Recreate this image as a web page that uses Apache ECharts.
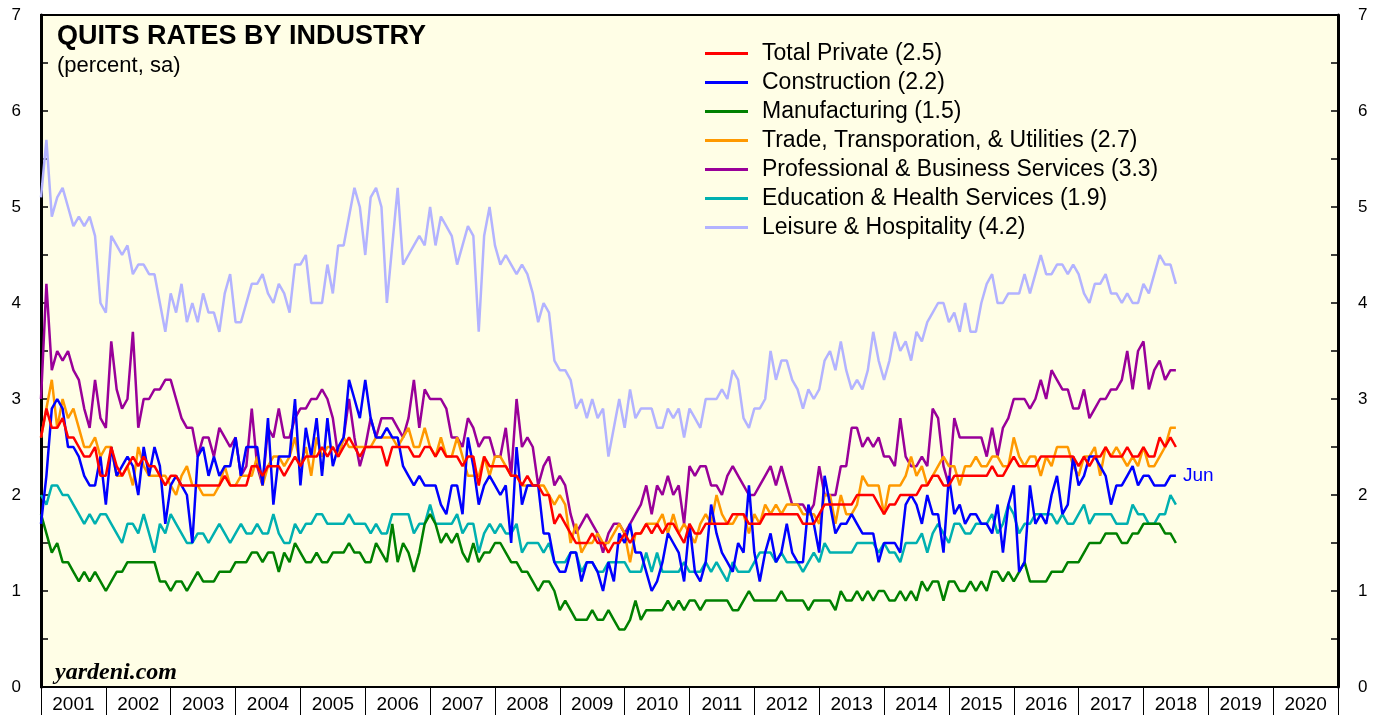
<!DOCTYPE html>
<html>
<head>
<meta charset="utf-8">
<title>Quits rates by industry</title>
<script src="https://cdn.jsdelivr.net/npm/echarts@6/dist/echarts.min.js"></script>
<style>
  html, body { margin: 0; padding: 0; background: #fff; }
  #chart { width: 1384px; height: 719px; }
</style>
</head>
<body>
<div id="chart"></div>
<script>
// monthly values, Dec 2000 .. Jun 2018
const years = ["2001","2002","2003","2004","2005","2006","2007","2008","2009","2010",
  "2011","2012","2013","2014","2015","2016","2017","2018","2019","2020"];

const totalPrivate = [
  2.6,2.9,2.7,2.7,2.8,2.6,2.6,2.5,2.4,2.4, 2.5,2.2,2.2,2.5,2.3,2.2,2.3,2.4,2.3,2.4,
  2.3,2.3,2.2,2.1,2.2,2.2,2.1,2.1,2.1,2.1, 2.1,2.1,2.1,2.1,2.2,2.1,2.1,
  2.1,2.1,2.3,2.3,2.2,2.3,2.3,2.3,2.2,2.3, 2.4,2.3,2.4,2.4,2.4,2.5,2.4,2.5,2.4,2.5,
  2.6,2.5,2.4,2.5,2.5,2.5,2.5,2.3,2.5,2.5, 2.5,2.5,2.4,2.4,2.5,
  2.5,2.4,2.5,2.4,2.4,2.4,2.3,2.4,2.4,2.1, 2.4,2.3,2.3,2.3,2.3,2.2,2.2,2.1,2.2,2.1,
  2.1,2.0,2.0,1.7,1.8,1.7,1.6,1.5,1.5,1.5, 1.6,1.5,1.5,1.4,1.5,
  1.5,1.6,1.5,1.6,1.6,1.7,1.6,1.7,1.6,1.7, 1.7,1.6,1.5,1.7,1.6,1.6,1.7,1.7,1.7,1.7,
  1.7,1.8,1.8,1.8,1.7,1.7,1.7,1.8,1.8,1.8, 1.8,1.8,1.8,1.8,1.7,1.7,
  1.7,1.8,1.9,1.9,1.9,1.9,1.9,1.9,2.0,2.0, 2.0,2.0,1.9,1.8,1.9,1.9,2.0,2.0,2.0,2.0,
  2.1,2.1,2.2,2.2,2.1,2.1,2.2,2.2,2.2,2.2, 2.2,2.2,2.2,2.3,2.2,
  2.2,2.3,2.4,2.3,2.3,2.3,2.3,2.4,2.4,2.4, 2.4,2.4,2.4,2.4,2.3,2.4,2.3,2.4,2.4,2.5,
  2.4,2.4,2.4,2.5,2.4,2.4,2.5,2.4,2.4,2.6, 2.5,2.6,2.5
];

const construction = [
  1.7,2.2,2.9,3.0,2.9,2.5,2.5,2.4,2.2,2.1, 2.1,2.4,1.9,2.5,2.2,2.3,2.4,2.3,2.0,2.5,
  2.2,2.5,2.3,1.7,2.1,2.2,2.1,2.0,1.5,2.4, 2.5,2.2,2.4,2.2,2.3,2.3,2.6,
  2.2,2.5,2.5,2.5,2.1,2.8,1.9,2.4,2.4,2.4, 3.0,2.1,2.7,2.4,2.8,2.2,2.8,2.3,2.5,2.6,
  3.2,3.0,2.8,3.2,2.8,2.6,2.6,2.7,2.6,2.6, 2.3,2.2,2.1,2.2,2.1,
  2.1,2.1,1.9,1.8,2.1,2.1,1.8,2.6,2.3,1.9, 2.1,2.2,2.1,2.0,2.1,1.5,2.5,1.9,2.1,2.1,
  2.1,1.6,1.6,1.3,1.2,1.2,1.4,1.4,1.1,1.3, 1.3,1.2,1.0,1.3,1.1,
  1.6,1.5,1.7,1.4,1.4,1.2,1.0,1.1,1.3,1.6, 1.5,1.4,1.1,1.7,1.2,1.1,1.3,1.9,1.6,1.4,
  1.3,1.2,1.5,1.4,2.1,1.4,1.1,1.4,1.6,1.3, 1.4,1.7,1.4,1.3,1.3,1.9,
  1.7,1.4,2.2,1.9,1.6,1.7,1.7,1.8,1.7,1.6, 1.6,1.6,1.3,1.5,1.5,1.5,1.4,1.9,2.0,1.9,
  1.7,2.0,1.8,1.8,1.4,2.2,1.8,1.9,1.7,1.8, 1.8,1.7,1.7,1.6,1.9,
  1.4,1.9,2.1,1.2,1.3,2.1,1.7,1.8,1.7,2.0, 2.2,1.8,1.9,2.4,2.1,2.2,2.4,2.4,2.3,2.2,
  1.9,2.1,2.1,2.2,2.3,2.1,2.2,2.2,2.1,2.1, 2.1,2.2,2.2
];

const manufacturing = [
  1.8,1.6,1.4,1.5,1.3,1.3,1.2,1.1,1.2,1.1, 1.2,1.1,1.0,1.1,1.2,1.2,1.3,1.3,1.3,1.3,
  1.3,1.3,1.1,1.1,1.0,1.1,1.1,1.0,1.1,1.2, 1.1,1.1,1.1,1.2,1.2,1.2,1.3,
  1.3,1.3,1.4,1.4,1.3,1.4,1.4,1.2,1.4,1.3, 1.5,1.4,1.3,1.3,1.4,1.3,1.3,1.4,1.4,1.4,
  1.5,1.4,1.4,1.3,1.3,1.5,1.4,1.3,1.7,1.3, 1.5,1.4,1.2,1.4,1.7,
  1.8,1.7,1.5,1.6,1.5,1.6,1.4,1.3,1.5,1.3, 1.4,1.4,1.5,1.5,1.4,1.3,1.3,1.2,1.2,1.1,
  1.0,1.1,1.1,1.0,0.8,0.9,0.8,0.7,0.7,0.7, 0.8,0.7,0.7,0.8,0.7,
  0.6,0.6,0.7,0.9,0.7,0.8,0.8,0.8,0.8,0.9, 0.8,0.9,0.8,0.9,0.9,0.8,0.9,0.9,0.9,0.9,
  0.9,0.8,0.8,0.9,1.0,0.9,0.9,0.9,0.9,0.9, 1.0,0.9,0.9,0.9,0.9,0.8,
  0.9,0.9,0.9,0.9,0.8,1.0,0.9,0.9,1.0,0.9, 1.0,0.9,1.0,1.0,0.9,0.9,1.0,0.9,1.0,0.9,
  1.1,1.0,1.1,1.1,0.9,1.1,1.1,1.0,1.0,1.1, 1.0,1.1,1.0,1.2,1.2,
  1.1,1.2,1.1,1.2,1.3,1.1,1.1,1.1,1.1,1.2, 1.2,1.2,1.3,1.3,1.3,1.4,1.5,1.5,1.5,1.6,
  1.6,1.6,1.5,1.5,1.6,1.6,1.7,1.7,1.7,1.7, 1.6,1.6,1.5
];

const tradeTransUtil = [
  2.6,2.9,3.2,2.7,3.0,2.8,2.9,2.7,2.5,2.5, 2.6,2.4,2.5,2.5,2.2,2.2,2.3,2.1,2.5,2.3,
  2.2,2.2,2.2,2.2,2.1,2.0,2.2,2.3,2.1,2.1, 2.0,2.0,2.0,2.1,2.3,2.1,2.1,
  2.2,2.2,2.2,2.4,2.1,2.3,2.4,2.4,2.3,2.4, 2.6,2.3,2.5,2.2,2.6,2.4,2.5,2.5,2.4,2.6,
  2.5,2.5,2.5,2.5,2.5,2.6,2.6,2.6,2.6,2.5, 2.6,2.7,2.5,2.5,2.7,
  2.5,2.4,2.6,2.4,2.4,2.6,2.4,2.2,2.2,2.2, 2.4,2.2,2.4,2.4,2.3,2.2,2.2,2.1,2.1,2.1,
  2.1,2.1,2.0,1.9,2.0,1.9,1.5,1.7,1.4,1.5, 1.5,1.6,1.5,1.5,1.6,
  1.7,1.6,1.3,1.6,1.6,1.7,1.7,1.7,1.8,1.6, 1.8,1.6,1.7,1.6,1.5,1.7,1.8,1.7,2.0,1.8,
  1.7,1.7,1.8,1.8,1.6,1.8,1.7,1.9,1.8,1.9, 1.8,1.9,1.9,1.9,1.8,1.8,
  1.8,1.7,2.0,2.0,1.7,2.0,1.8,1.8,1.9,2.2, 2.1,2.1,2.1,1.8,2.1,2.1,2.1,2.2,2.4,2.2,
  2.3,2.1,2.2,2.3,2.4,2.3,2.3,2.1,2.3,2.3, 2.4,2.3,2.3,2.4,2.4,
  2.3,2.3,2.6,2.4,2.3,2.4,2.4,2.2,2.4,2.3, 2.5,2.5,2.5,2.3,2.2,2.4,2.4,2.5,2.2,2.5,
  2.4,2.5,2.4,2.3,2.4,2.3,2.5,2.3,2.3,2.4, 2.5,2.7,2.7
];

const profBusiness = [
  3.0,4.2,3.3,3.5,3.4,3.5,3.3,3.2,2.9,2.7, 3.2,2.8,2.7,3.6,3.1,2.9,3.0,3.7,2.7,3.0,
  3.0,3.1,3.1,3.2,3.2,3.0,2.8,2.7,2.7,2.4, 2.6,2.6,2.4,2.7,2.6,2.5,2.6,
  2.2,2.3,2.9,2.3,2.1,2.7,2.6,2.9,2.6,2.6, 2.8,2.9,2.9,3.0,3.0,3.1,3.0,2.8,2.4,2.6,
  3.0,2.6,2.3,2.5,2.8,2.6,2.8,2.8,2.8,2.7, 2.6,2.8,3.2,2.7,3.1,
  3.0,3.0,3.0,2.9,2.6,2.6,2.5,2.8,2.7,2.5, 2.6,2.6,2.4,2.4,2.7,2.2,3.0,2.5,2.6,2.5,
  2.1,2.3,2.4,2.1,2.2,2.1,1.8,1.6,1.7,1.8, 1.7,1.6,1.4,1.6,1.7,
  1.7,1.6,1.7,1.8,1.9,2.1,1.8,2.1,2.0,2.2, 2.0,2.1,1.7,2.3,2.2,2.3,2.3,2.1,2.1,2.0,
  2.2,2.3,2.2,2.1,2.0,2.0,2.1,2.2,2.3,2.1, 2.3,2.1,1.9,1.9,1.9,1.8,
  1.9,2.3,2.0,2.0,2.0,2.3,2.3,2.7,2.7,2.5, 2.6,2.5,2.6,2.4,2.4,2.3,2.8,2.4,2.3,2.3,
  2.4,2.3,2.9,2.8,2.3,2.1,2.8,2.6,2.6,2.6, 2.6,2.6,2.4,2.7,2.4,
  2.7,2.8,3.0,3.0,3.0,2.9,3.0,3.2,3.0,3.3, 3.2,3.1,3.1,2.9,2.9,3.1,2.8,2.9,3.0,3.0,
  3.1,3.1,3.2,3.5,3.1,3.5,3.6,3.1,3.3,3.4, 3.2,3.3,3.3
];

const eduHealth = [
  2.0,1.9,2.1,2.1,2.0,2.0,1.9,1.8,1.7,1.8, 1.7,1.8,1.8,1.7,1.6,1.5,1.7,1.7,1.6,1.8,
  1.6,1.4,1.7,1.6,1.8,1.7,1.6,1.5,1.5,1.6, 1.6,1.5,1.6,1.7,1.6,1.5,1.6,
  1.7,1.6,1.6,1.7,1.6,1.6,1.8,1.6,1.5,1.5, 1.7,1.6,1.7,1.7,1.8,1.8,1.7,1.7,1.7,1.7,
  1.8,1.7,1.7,1.7,1.6,1.7,1.6,1.6,1.8,1.8, 1.8,1.8,1.6,1.7,1.7,
  1.9,1.7,1.7,1.7,1.7,1.8,1.6,1.7,1.7,1.4, 1.6,1.7,1.6,1.7,1.6,1.6,1.7,1.4,1.5,1.5,
  1.5,1.4,1.5,1.3,1.3,1.3,1.4,1.4,1.2,1.3, 1.3,1.2,1.2,1.3,1.3,
  1.3,1.3,1.2,1.2,1.2,1.4,1.2,1.4,1.2,1.2, 1.2,1.2,1.3,1.2,1.2,1.2,1.3,1.2,1.3,1.2,
  1.1,1.3,1.2,1.2,1.2,1.3,1.4,1.4,1.4,1.3, 1.4,1.3,1.3,1.3,1.2,1.3,
  1.4,1.3,1.5,1.4,1.4,1.4,1.4,1.4,1.5,1.5, 1.5,1.5,1.4,1.5,1.4,1.4,1.3,1.5,1.5,1.5,
  1.6,1.4,1.6,1.7,1.6,1.5,1.7,1.7,1.6,1.6, 1.7,1.7,1.7,1.8,1.6,
  1.7,1.9,1.8,1.6,1.7,1.7,1.8,1.8,1.8,1.8, 1.7,1.8,1.7,1.7,1.8,1.9,1.7,1.8,1.8,1.8,
  1.8,1.7,1.7,1.7,1.9,1.8,1.8,1.7,1.7,1.8, 1.8,2.0,1.9
];

const leisureHosp = [
  5.1,5.7,4.9,5.1,5.2,5.0,4.8,4.9,4.8,4.9, 4.7,4.0,3.9,4.7,4.6,4.5,4.6,4.3,4.4,4.4,
  4.3,4.3,4.0,3.7,4.1,3.9,4.2,3.8,4.0,3.8, 4.1,3.9,3.9,3.7,4.1,4.3,3.8,
  3.8,4.0,4.2,4.2,4.3,4.1,4.0,4.2,4.1,3.9, 4.4,4.4,4.5,4.0,4.0,4.0,4.4,4.1,4.6,4.6,
  4.9,5.2,5.0,4.5,5.1,5.2,5.0,4.0,4.6,5.2, 4.4,4.5,4.6,4.7,4.6,
  5.0,4.6,4.9,4.8,4.7,4.4,4.6,4.8,4.7,3.7, 4.7,5.0,4.6,4.4,4.5,4.4,4.3,4.4,4.3,4.1,
  3.8,4.0,3.9,3.4,3.3,3.3,3.2,2.9,3.0,2.8, 3.0,2.8,2.9,2.4,
  2.7,3.0,2.7,3.1,2.8,2.9,2.9,2.9,2.7,2.7, 2.9,2.8,2.9,2.6,2.9,2.8,2.7,3.0,3.0,3.0,
  3.1,3.0,3.3,3.2,2.8,2.7,2.9,2.9,3.0,3.5, 3.2,3.4,3.4,3.2,3.1,2.9,3.1,
  3.0,3.1,3.4,3.5,3.3,3.6,3.3,3.1,3.2,3.1, 3.3,3.7,3.4,3.2,3.4,3.7,3.5,3.6,3.4,3.7,
  3.6,3.8,3.9,4.0,4.0,3.8,3.9,3.7,4.0,3.7, 3.7,4.0,4.2,4.3,4.0,
  4.0,4.1,4.1,4.1,4.3,4.1,4.3,4.5,4.3,4.3, 4.4,4.4,4.3,4.4,4.3,4.1,4.0,4.2,4.2,4.3,
  4.1,4.1,4.0,4.1,4.0,4.0,4.2,4.1,4.3,4.5, 4.4,4.4,4.2
];

const yTicks = [0, 1, 2, 3, 4, 5, 6, 7];

const seriesDefs = [
  { name: "Total Private (2.5)", data: totalPrivate, color: "#ff0000" },
  { name: "Construction (2.2)", data: construction, color: "#0000ff" },
  { name: "Manufacturing (1.5)", data: manufacturing, color: "#008000" },
  { name: "Trade, Transporation, & Utilities (2.7)", data: tradeTransUtil, color: "#ff9900" },
  { name: "Professional & Business Services (3.3)", data: profBusiness, color: "#990099" },
  { name: "Education & Health Services (1.9)", data: eduHealth, color: "#00b0b0" },
  { name: "Leisure & Hospitality (4.2)", data: leisureHosp, color: "#b3b3ff" },
];

const FONT = "'Liberation Sans', Arial, Helvetica, sans-serif";

// month i (0 = Dec 2000) sits at the end of that month
function toPoints(arr) {
  return arr.map(function (v, i) {
    return [2001 + i / 12, v];
  });
}

let chart = echarts.init(document.getElementById("chart"), null, { renderer: "canvas" });

let series = seriesDefs.map(function (s, k) {
  let item = {
    name: s.name,
    type: "line",
    xAxisIndex: 0,
    yAxisIndex: 0,
    data: toPoints(s.data),
    showSymbol: false,
    symbol: "none",
    lineStyle: { color: s.color, width: 2.5 },
    itemStyle: { color: s.color },
    z: 10 - k,
    animation: false,
  };
  if (k === 1) {
    item.endLabel = {
      show: true,
      formatter: "Jun",
      color: "#0000ff",
      fontFamily: FONT,
      fontSize: 19,
      distance: 7,
    };
  }
  return item;
});

let yAxisBase = {
  type: "value",
  min: 0,
  max: 7,
  interval: 0.5,
  splitLine: { show: false },
  axisLine: { show: true, lineStyle: { color: "#000", width: 3 } },
  axisTick: { show: true, inside: true, length: 7, lineStyle: { color: "#000", width: 1.5 } },
  axisLabel: {
    color: "#000",
    fontFamily: FONT,
    fontSize: 17,
    margin: 20,
    formatter: function (v) {
      return yTicks.indexOf(v) >= 0 ? String(v) : "";
    },
  },
};

let option = {
  backgroundColor: "#ffffff",
  animation: false,
  grid: {
    left: 41,
    right: 46,
    top: 15,
    bottom: 32,
    show: true,
    backgroundColor: "#fffee6",
    borderColor: "#000",
    borderWidth: 2,
  },
  legend: {
    orient: "vertical",
    left: 705,
    top: 42,
    icon: "rect",
    itemWidth: 43,
    itemHeight: 3,
    itemGap: 6,
    padding: 0,
    selectedMode: false,
    textStyle: {
      color: "#000",
      fontFamily: FONT,
      fontSize: 23,
      lineHeight: 20,
      padding: [0, 0, 0, 9],
    },
    data: seriesDefs.map(function (s) {
      return { name: s.name, itemStyle: { color: s.color } };
    }),
  },
  graphic: [
    {
      type: "text",
      left: 57,
      top: 23,
      style: { text: "QUITS RATES BY INDUSTRY", fill: "#000", font: "bold 27px " + FONT },
    },
    {
      type: "text",
      left: 57,
      top: 55,
      style: { text: "(percent, sa)", fill: "#000", font: "22px " + FONT },
    },
    {
      type: "text",
      left: 55,
      top: 661,
      style: {
        text: "yardeni.com",
        fill: "#000",
        font: "italic bold 24px 'Liberation Serif', 'Times New Roman', serif",
      },
    },
  ],
  xAxis: [
    {
      type: "value",
      min: 2001,
      max: 2021,
      interval: 1,
      position: "bottom",
      splitLine: { show: false },
      axisLine: { show: true, lineStyle: { color: "#000", width: 2 } },
      axisTick: { show: false },
      axisLabel: { show: false },
    },
    {
      type: "category",
      data: years,
      position: "bottom",
      boundaryGap: true,
      axisLine: { show: false },
      axisTick: { show: true, length: 28, lineStyle: { color: "#000", width: 1 } },
      axisLabel: { color: "#000", fontFamily: FONT, fontSize: 19, margin: 8 },
      splitLine: { show: false },
    },
  ],
  yAxis: [
    Object.assign({}, yAxisBase, { position: "left" }),
    Object.assign({}, yAxisBase, { position: "right" }),
  ],
  series: series,
};

chart.setOption(option);
</script>
</body>
</html>
